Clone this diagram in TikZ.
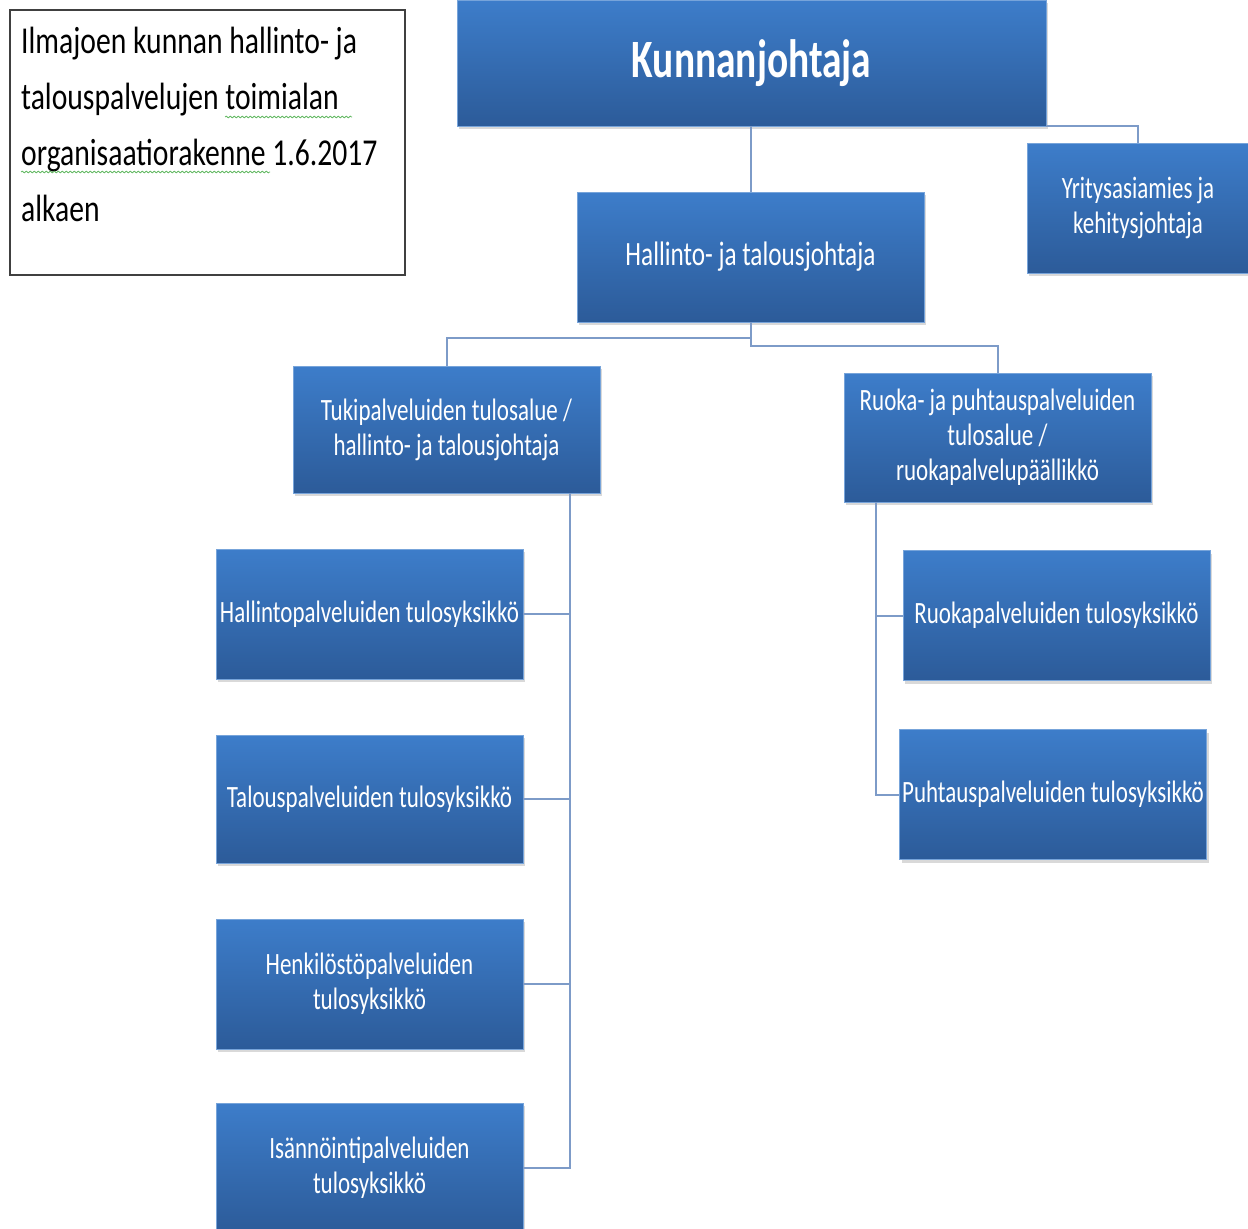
\documentclass[tikz,border=0pt]{standalone}
\usepackage{fontspec}
\setmainfont{Carlito}[FakeStretch=0.78]
\newfontfamily\boxfont{Carlito}[FakeStretch=0.742]
\newfontfamily\titlefont{Carlito}[FakeStretch=0.73]
\usetikzlibrary{shadows,decorations.pathmorphing}

\definecolor{boxtop}{RGB}{61,125,202}
\definecolor{boxbot}{RGB}{44,91,153}
\definecolor{linkcol}{RGB}{125,155,200}
\definecolor{squiggle}{RGB}{100,185,100}

\tikzset{
  orgbox/.style={rectangle, inner sep=0pt, minimum width=307pt, minimum height=130pt,
    top color=boxtop, bottom color=boxbot, draw=boxtop!70!white, line width=0.6pt,
    text=white, align=center, font=\boxfont\fontsize{31}{35}\selectfont,
    drop shadow={shadow xshift=2pt, shadow yshift=-3pt, opacity=0.3}},
  link/.style={draw=linkcol, line width=2pt},
  wavy/.style={draw=squiggle, line width=0.8pt, decorate,
    decoration={snake, amplitude=0.9pt, segment length=4pt}}
}

\begin{document}
\begin{tikzpicture}[x=1pt,y=-1pt]
\useasboundingbox (0,0) rectangle (1248,1229);
% otsikko
\node[draw=black!75, line width=1.5pt, minimum width=395pt, minimum height=265pt, inner sep=0pt, anchor=north west] (info) at (9,9) {};
\node[anchor=north west, inner sep=0pt, align=left, font=\fontsize{38}{56}\selectfont] (infotext) at (21,27)
  {Ilmajoen kunnan hallinto- ja\\talouspalvelujen toimialan\\organisaatiorakenne 1.6.2017\\alkaen};
\draw[wavy] (225,117) -- (352,117);
\draw[wavy] (21,172) -- (270,172);
% johto
\node[orgbox, minimum width=589pt, minimum height=126pt, font=\titlefont\fontsize{54}{60}\selectfont\bfseries] (kunta) at (751.5,63) {Kunnanjohtaja};
\node[orgbox, minimum width=347pt, font=\boxfont\fontsize{34}{38}\selectfont] (hallinto) at (750.5,257) {Hallinto- ja talousjohtaja};
\node[orgbox, minimum width=222pt] (yritys) at (1138,208) {Yritysasiamies ja\\kehitysjohtaja};
% tulosalueet
\node[orgbox, minimum height=127pt] (tuki) at (446.5,429.5) {Tukipalveluiden tulosalue /\\hallinto- ja talousjohtaja};
\node[orgbox, minimum height=129pt] (ruoka) at (997.5,437.5) {Ruoka- ja puhtauspalveluiden\\tulosalue /\\ruokapalvelupäällikkö};
% tulosyksiköt
\node[orgbox] (hallpal) at (369.5,614) {Hallintopalveluiden tulosyksikkö};
\node[orgbox, minimum height=128pt] (talpal) at (369.5,799) {Talouspalveluiden tulosyksikkö};
\node[orgbox] (henkpal) at (369.5,984) {Henkilöstöpalveluiden\\tulosyksikkö};
\node[orgbox] (isapal) at (369.5,1168) {Isännöintipalveluiden\\tulosyksikkö};
\node[orgbox] (ruokapal) at (1056.5,615.5) {Ruokapalveluiden tulosyksikkö};
\node[orgbox] (puhtpal) at (1053,794.5) {Puhtauspalveluiden tulosyksikkö};
% viivat
\draw[link] (hallinto.north) -- (hallinto.north |- kunta.south);
\draw[link] (kunta.south east) -| (yritys.north);
\draw[link] (hallinto.south) -- ++(0,16) -| (tuki.north);
\draw[link] (hallinto.south) -- ++(0,24) -| (ruoka.north);
\coordinate (tukibus) at ([xshift=-30pt]tuki.south east);
\foreach \n in {hallpal,talpal,henkpal,isapal}
  \draw[link] (tukibus) |- (\n.east);
\coordinate (ruokabus) at ([xshift=32pt]ruoka.south west);
\foreach \n in {ruokapal,puhtpal}
  \draw[link] (ruokabus) |- (\n.west);
\end{tikzpicture}
\end{document}
